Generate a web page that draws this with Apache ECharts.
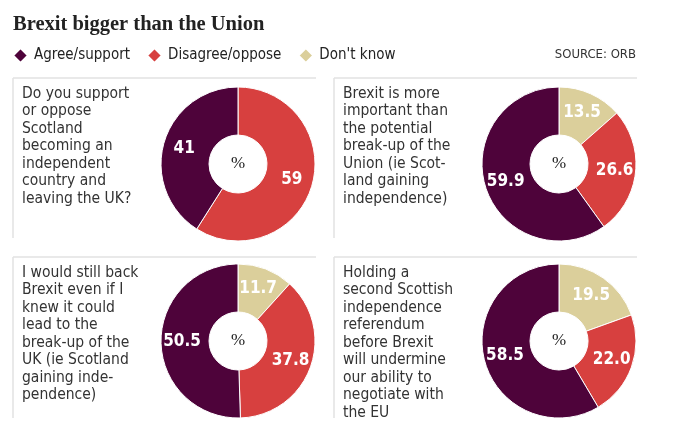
<!DOCTYPE html>
<html>
<head>
<meta charset="utf-8">
<script src="https://cdn.jsdelivr.net/npm/echarts@6/dist/echarts.min.js"></script>
<style>
  html, body { margin: 0; padding: 0; background: #fff; }
  #chart { width: 680px; height: 436px; }
</style>
</head>
<body>
<div id="chart"></div>
<script>
// categories and the four survey results
var categories = ['Agree/support', 'Disagree/oppose', "Don't know"];
var agree      = [41, 59.9, 50.5, 58.5];
var disagree   = [59, 26.6, 37.8, 22.0];
var dontKnow   = [null, 13.5, 11.7, 19.5];
var decimals   = [0, 1, 1, 1];
var questions = [
    'Do you support\nor oppose\nScotland\nbecoming an\nindependent\ncountry and\nleaving the UK?',
    'Brexit is more\nimportant than\nthe potential\nbreak-up of the\nUnion (ie Scot-\nland gaining\nindependence)',
    'I would still back\nBrexit even if I\nknew it could\nlead to the\nbreak-up of the\nUK (ie Scotland\ngaining inde-\npendence)',
    'Holding a\nsecond Scottish\nindependence\nreferendum\nbefore Brexit\nwill undermine\nour ability to\nnegotiate with\nthe EU'
];

var colors = {
    'Agree/support': '#4e033a',
    'Disagree/oppose': '#d7403f',
    "Don't know": '#dbcf9b'
};
var narrow = "'Liberation Sans Narrow', 'DejaVu Sans Condensed', sans-serif";
var serif = "'Liberation Serif', 'DejaVu Serif', serif";

// panel layout
var cells = [
    { x: 13,  y: 78,  cx: 238, cy: 164, bottom: 238 },
    { x: 334, y: 78,  cx: 559, cy: 164, bottom: 238 },
    { x: 13,  y: 257, cx: 238, cy: 341, bottom: 418 },
    { x: 334, y: 257, cx: 559, cy: 341, bottom: 418 }
];

var chart = echarts.init(document.getElementById('chart'));

var titles = [
    {
        text: 'Brexit bigger than the Union',
        left: 13, top: 14, padding: 0,
        textStyle: { fontFamily: serif, fontWeight: 'bold', fontSize: 20.5, color: '#222' }
    },
    {
        text: 'SOURCE: ORB',
        right: 44, top: 48, padding: 0,
        textStyle: { fontFamily: narrow, fontWeight: 'normal', fontSize: 13, color: '#333' }
    }
];

var series = [];
var graphics = [];

cells.forEach(function (c, i) {
    titles.push({
        text: questions[i],
        left: c.x + 9, top: c.y + 7, padding: 0,
        textStyle: { fontFamily: narrow, fontWeight: 'normal', fontSize: 15.5, lineHeight: 17.5, color: '#333' }
    });

    var data = [];
    if (dontKnow[i] != null) data.push({ name: categories[2], value: dontKnow[i] });
    data.push({ name: categories[1], value: disagree[i] });
    data.push({ name: categories[0], value: agree[i] });

    series.push({
        type: 'pie',
        center: [c.cx, c.cy],
        radius: [29, 77],
        startAngle: 90,
        clockwise: true,
        silent: true,
        animation: false,
        itemStyle: {
            borderColor: '#fff',
            borderWidth: 1,
            color: function (p) { return colors[p.name]; }
        },
        label: {
            show: true,
            position: 'inside',
            color: '#fff',
            fontFamily: narrow,
            fontWeight: 'bold',
            fontSize: 17,
            formatter: function (p) { return p.value.toFixed(decimals[i]); }
        },
        labelLine: { show: false },
        data: data
    });

    // panel rules
    graphics.push({
        type: 'line', silent: true,
        shape: { x1: c.x, y1: c.y, x2: c.x + 303, y2: c.y },
        style: { stroke: '#e2e2e2', lineWidth: 1.5 }
    });
    graphics.push({
        type: 'line', silent: true,
        shape: { x1: c.x, y1: c.y, x2: c.x, y2: c.bottom },
        style: { stroke: '#e2e2e2', lineWidth: 1.5 }
    });
    // percent sign in the hole
    graphics.push({
        type: 'text', silent: true, z: 10,
        x: c.cx, y: c.cy,
        style: {
            text: '%', align: 'center', verticalAlign: 'middle',
            font: '17px ' + serif,
            fill: '#222'
        }
    });
});

var option = {
    backgroundColor: '#fff',
    title: titles,
    legend: {
        data: categories.map(function (n) { return { name: n, itemStyle: { color: colors[n] } }; }),
        left: 12, top: 47, padding: 0,
        icon: 'diamond',
        itemWidth: 15, itemHeight: 15,
        itemGap: 16,
        selectedMode: false,
        textStyle: { fontFamily: narrow, fontSize: 15, color: '#222', padding: [0, 0, 0, 1] }
    },
    graphic: graphics,
    series: series
};

chart.setOption(option);
</script>
</body>
</html>
